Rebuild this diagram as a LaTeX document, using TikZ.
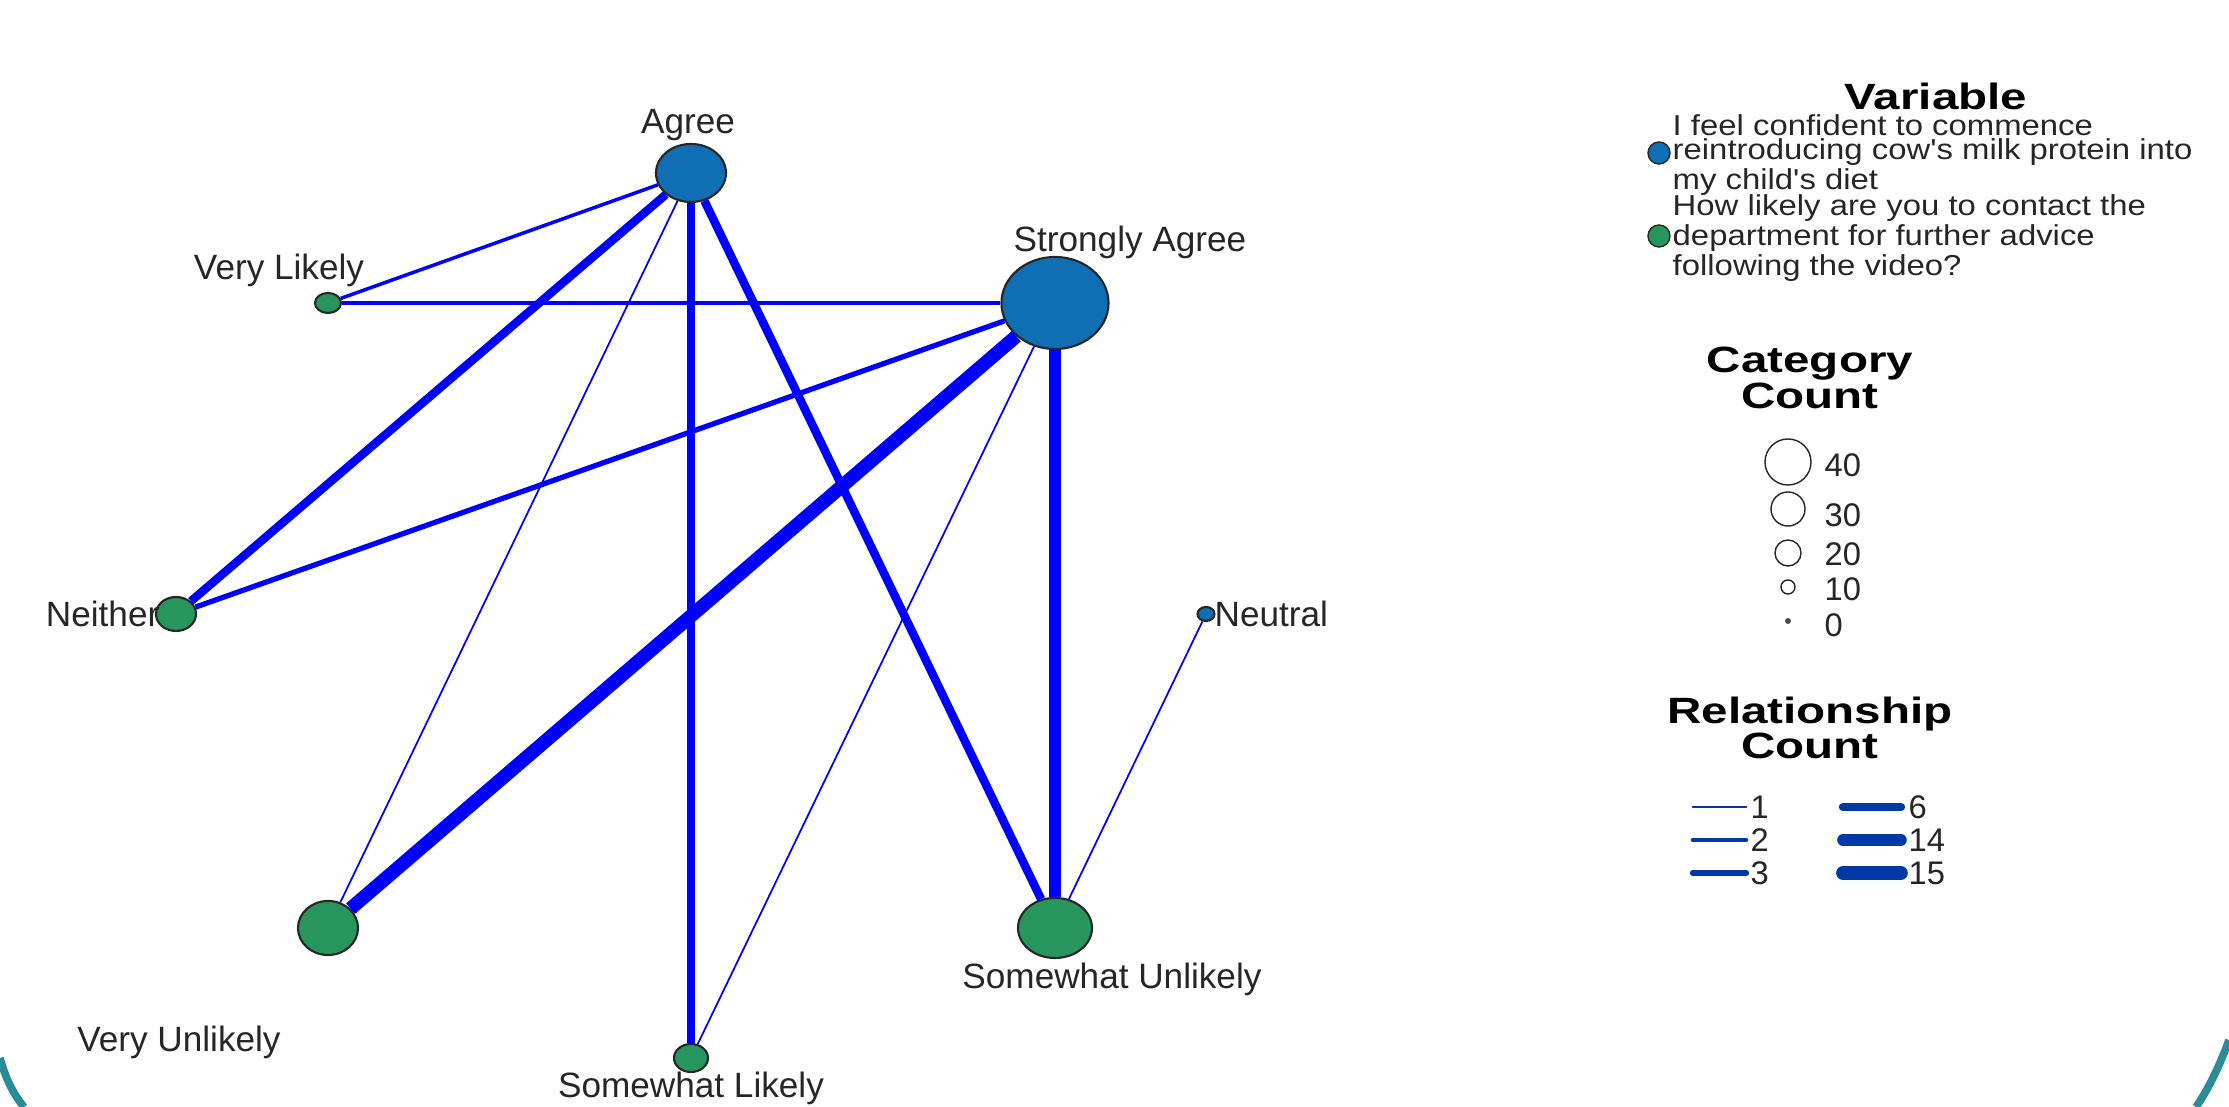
\documentclass[tikz,border=0pt]{standalone}
\usepackage{fontspec}
\setmainfont{Liberation Sans}
\newfontfamily\legfont[FakeStretch=1.14]{Liberation Sans}
\newfontfamily\titlefont[FakeStretch=1.3]{Liberation Sans}
\usetikzlibrary{positioning,shapes.geometric}
\definecolor{nodeblue}{RGB}{16,110,180}
\definecolor{nodegreen}{RGB}{38,150,92}
\definecolor{edgeblue}{RGB}{0,0,255}
\definecolor{legblue}{RGB}{0,56,168}
\definecolor{frameteal}{RGB}{42,140,150}
\tikzset{
  cat/.style={ellipse,draw=black!85,line width=0.6pt,inner sep=0pt},
  bcat/.style={cat,fill=nodeblue},
  gcat/.style={cat,fill=nodegreen},
  lbl/.style={font=\fontsize{10}{12}\selectfont,text=black!85,inner sep=0pt},
  leg/.style={font=\legfont\fontsize{8.2}{6.9}\selectfont,text=black!85,inner sep=0pt},
  legnum/.style={font=\fontsize{9.3}{10}\selectfont,text=black!85,inner sep=0pt},
  legtitle/.style={font=\titlefont\bfseries\fontsize{10.4}{10.1}\selectfont,align=center,inner sep=0pt},
  rel/.style={edgeblue,line width=#1},
  legline/.style={legblue,line width=#1,line cap=round}
}
\begin{document}
\begin{tikzpicture}[x=0.01cm,y=-0.01cm]
  \useasboundingbox (0,0) rectangle (2229,1107);

  \node[bcat,minimum width=7mm,minimum height=5.8mm] (AG) at (691,173) {};
  \node[bcat,minimum width=10.7mm,minimum height=9.2mm] (SA) at (1055,303) {};
  \node[bcat,minimum width=1.7mm,minimum height=1.4mm] (NT) at (1206,614) {};
  \node[gcat,minimum width=2.6mm,minimum height=2mm] (VL) at (328,303) {};
  \node[gcat,minimum width=4mm,minimum height=3.4mm] (NE) at (176,614) {};
  \node[gcat,minimum width=6mm,minimum height=5.4mm] (VU) at (328,928) {};
  \node[gcat,minimum width=3.4mm,minimum height=2.8mm] (SL) at (691,1058) {};
  \node[gcat,minimum width=7.4mm,minimum height=6mm] (SU) at (1055,928) {};

  \node[lbl] (AGt) at (688,125) {Agree};
  \node[lbl] (SAt) at (1130,242) {Strongly Agree};
  \node[lbl] (VLt) at (279,270) {Very Likely};
  \node[lbl,anchor=east] (NEt) at (160,614) {Neither};
  \node[lbl,anchor=west] (NTt) at (1214,614) {Neutral};
  \node[lbl] (VUt) at (179,1042) {Very Unlikely};
  \node[lbl] (SLt) at (691,1088) {Somewhat Likely};
  \node[lbl] (SUt) at (1112,979) {Somewhat Unlikely};

  \draw [rel=1pt] (AG) -- (VL);
  \draw [rel=2.4pt] (AG) -- (NE);
  \draw [rel=0.5pt] (AG) -- (VU);
  \draw [rel=2.4pt] (AG) -- (SL);
  \draw [rel=2.4pt] (AG) -- (SU);
  \draw [rel=1pt] (SA) -- (VL);
  \draw [rel=1.5pt] (SA) -- (NE);
  \draw [rel=3.9pt] (SA) -- (VU);
  \draw [rel=0.5pt] (SA) -- (SL);
  \draw [rel=3.3pt] (SA) -- (SU);
  \draw [rel=0.5pt] (NT) -- (SU);

  % legend
  \node[legtitle] (vart) at (1936,96) {Variable};
  \node[circle,draw=black!85,fill=nodeblue,minimum size=2.2mm,inner sep=0pt] (vb) at (1659,153) {};
  \node[leg,anchor=west,align=left] (vbt) at (1672,155) {I feel confident to commence\\reintroducing cow's milk protein into\\my child's diet};
  \node[circle,draw=black!85,fill=nodegreen,minimum size=2.2mm,inner sep=0pt] (vg) at (1659,236) {};
  \node[leg,anchor=west,align=left] (vgt) at (1672,238) {How likely are you to contact the\\department for further advice\\following the video?};

  \node[legtitle] (catt) at (1810,378) {Category\\Count};
  \node[circle,draw=black!85,minimum size=4.6mm,inner sep=0pt] (c40) at (1788,462) {};
  \node[circle,draw=black!85,minimum size=3.4mm,inner sep=0pt] (c30) at (1788,509) {};
  \node[circle,draw=black!85,minimum size=2.6mm,inner sep=0pt] (c20) at (1788,553) {};
  \node[circle,draw=black!85,minimum size=1.4mm,inner sep=0pt] (c10) at (1788,587) {};
  \node[circle,fill=black!70,minimum size=0.6mm,inner sep=0pt] (c0) at (1788,621) {};
  \node[legnum,anchor=west] at (1824,465) {40};
  \node[legnum,anchor=west] at (1824,515) {30};
  \node[legnum,anchor=west] at (1824,554) {20};
  \node[legnum,anchor=west] at (1824,589) {10};
  \node[legnum,anchor=west] at (1824,625) {0};

  \node[legtitle] (relt) at (1810,728) {Relationship\\Count};
  \node[legnum,anchor=west] (r1) at (1750,807) {1};
  \node[legnum,anchor=west] (r2) at (1750,840) {2};
  \node[legnum,anchor=west] (r3) at (1750,873) {3};
  \node[legnum,anchor=west] (r6) at (1908,807) {6};
  \node[legnum,anchor=west] (r14) at (1908,840) {14};
  \node[legnum,anchor=west] (r15) at (1908,873) {15};
  \draw [legline=0.5pt] ([xshift=-1pt]r1.west) -- ++(-54,0);
  \draw [legline=1pt] ([xshift=-1pt]r2.west) -- ++(-54,0);
  \draw [legline=1.5pt] ([xshift=-1pt]r3.west) -- ++(-54,0);
  \draw [legline=2.4pt] ([xshift=-2pt]r6.west) -- ++(-58,0);
  \draw [legline=3.3pt] ([xshift=-2pt]r14.west) -- ++(-58,0);
  \draw [legline=3.9pt] ([xshift=-2pt]r15.west) -- ++(-58,0);

  % frame corners
  \draw [frameteal,line width=2.2pt] (0,1058) .. controls (6,1080) and (14,1095) .. (24,1107);
  \draw [frameteal,line width=2.2pt] (2229,1040) .. controls (2220,1065) and (2208,1090) .. (2196,1107);
\end{tikzpicture}
\end{document}
